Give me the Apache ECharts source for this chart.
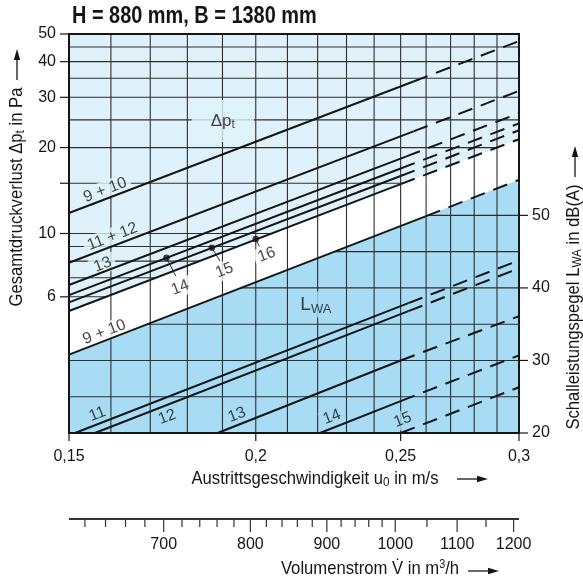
<!DOCTYPE html>
<html>
<head>
<meta charset="utf-8">
<script src="https://cdn.jsdelivr.net/npm/echarts@6/dist/echarts.min.js"></script>
<style>
html,body{margin:0;padding:0;background:#ffffff;}
#chart{width:583px;height:582px;}
</style>
</head>
<body>
<div id="chart"></div>
<script>
// ================= data =================
const uRange = [0.15, 0.3];      // Austrittsgeschwindigkeit u0 [m/s]
const paRange = [2, 50];         // Gesamtdruckverlust [Pa]
const dbRange = [20, 75];        // Schalleistungspegel [dB(A)]
const volRange = [605, 1210];    // Volumenstrom [m3/h]

const uTicks = [0.15, 0.2, 0.25, 0.3];
const uTickLabels = ['0,15', '0,2', '0,25', '0,3'];
const uGrid = [0.16, 0.17, 0.18, 0.19, 0.2, 0.21, 0.22, 0.23, 0.24, 0.25, 0.26, 0.27, 0.28, 0.29];

const paTicks = [50, 40, 30, 20, 15, 10, 6];
const paTickLabels = ['50', '40', '30', '20', '', '10', '6'];
const paGrid = [45, 40, 35, 30, 25, 20, 15, 10, 9, 8, 7, 6];

const dbTicks = [20, 30, 40, 50];
const dbTickLabels = ['20', '30', '40', '50'];
const dbGrid = [25, 30, 35, 40, 45, 50, 55];

const volMajor = [700, 800, 900, 1000, 1100, 1200];
const volMajorLabels = ['700', '800', '900', '1000', '1100', '1200'];
const volMinor = [620, 640, 660, 680, 720, 740, 760, 780, 820, 840, 860, 880, 920, 940, 960, 980, 1050, 1150];

// pressure loss curves [u, Pa]: start, end of solid part, end (dashed part)
const dpNames = ['9 + 10', '11 + 12', '13', '14', '15', '16'];
const dpStart = [[0.15, 11.8], [0.15, 7.9], [0.15, 6.6], [0.15, 6.08], [0.15, 5.74], [0.15, 5.35]];
const dpSolidEnd = [[0.255, 34.1], [0.255, 22.8], [0.252, 18.6], [0.25, 16.9], [0.25, 15.9], [0.25, 14.9]];
const dpEnd = [[0.3, 47.2], [0.3, 31.6], [0.3, 26.4], [0.3, 24.3], [0.3, 23.0], [0.3, 21.4]];
const dpDots = [[0.1743, 8.22], [0.1869, 8.91], [0.2, 9.57]];

// sound power curves [u, dB(A)]
const lwNames = ['9 + 10', '11', '12', '13', '14', '15'];
const lwStart = [[0.15, 30.8], [0.1514, 20], [0.1561, 20], [0.1886, 20], [0.2208, 20], [0.25, 20]];
const lwSolidEnd = [[0.26, 49.9], [0.253, 37.9], [0.253, 36.8], [0.25, 30.0], [0.25, 24.4], [0.25, 20]];
const lwEnd = [[0.3, 54.9], [0.3, 43.8], [0.3, 42.7], [0.3, 36.1], [0.3, 30.7], [0.3, 26.3]];

// ================= annotation placement =================
const dpLabelAt = [[0.1586, 14.2], [0.1604, 9.75], [0.158, 7.78], [0.178, 6.46], [0.1906, 7.42], [0.2034, 8.42]];
const leaderEnd = [[0.1768, 7.1], [0.1893, 8.0], [0.2011, 9.0]];
const lwLabelAt = [[0.1584, 33.9], [0.1567, 22.6], [0.1745, 22.2], [0.1943, 22.5], [0.2249, 22.2], [0.2508, 21.8]];

const INK = '#151515';
const LIGHT = '#dff2fb';
const DARK = '#a8dcf5';
const GRID_C = '#2e2e2e';
const FONT = '"Liberation Sans", Arial, Helvetica, sans-serif';
const dpLabelBg = [LIGHT, LIGHT, LIGHT, '#ffffff', '#ffffff', '#ffffff'];
const lwLabelBg = ['#ffffff', DARK, DARK, DARK, DARK, DARK];

function seg(x1, y1, x2, y2, color, w) {
  return {type: 'line', shape: {x1: x1, y1: y1, x2: x2, y2: y2}, style: {stroke: color, lineWidth: w}};
}
function txt(x, y, text, align, va, size) {
  return {type: 'text', style: {x: x, y: y, text: text, fill: INK, fontSize: size || 16, fontFamily: FONT, align: align, verticalAlign: va}};
}
const one = [[0.2, 10]];
const series = [];

// ---- region fills ----
series.push({
  type: 'custom', xAxisIndex: 0, yAxisIndex: 0, z: 1, silent: true, data: one,
  renderItem: function (params, api) {
    const tl = api.coord([uRange[0], paRange[1]]);
    const br = api.coord([uRange[1], paRange[0]]);
    const b0 = api.coord(dpStart[5]), b1 = api.coord(dpEnd[5]);
    return {type: 'group', children: [
      {type: 'polygon', shape: {points: [tl, [br[0], tl[1]], b1, b0]}, style: {fill: LIGHT}},
      {type: 'polygon', shape: {points: [b0, b1, br, [tl[0], br[1]]]}, style: {fill: '#ffffff'}}
    ]};
  }
});
series.push({
  type: 'custom', xAxisIndex: 0, yAxisIndex: 1, z: 1, silent: true, data: [[0.2, 30]],
  renderItem: function (params, api) {
    const c0 = api.coord(lwStart[0]), c1 = api.coord(lwEnd[0]);
    const bl = api.coord([uRange[0], dbRange[0]]), br = api.coord([uRange[1], dbRange[0]]);
    return {type: 'polygon', shape: {points: [c0, c1, br, bl]}, style: {fill: DARK}};
  }
});

// ---- grid lines ----
series.push({
  type: 'custom', xAxisIndex: 0, yAxisIndex: 0, z: 2, silent: true, data: one,
  renderItem: function (params, api) {
    const tl = api.coord([uRange[0], paRange[1]]);
    const br = api.coord([uRange[1], paRange[0]]);
    const b0 = api.coord(dpStart[5]), b1 = api.coord(dpEnd[5]);
    const ch = [];
    uGrid.forEach(function (u) {
      const x = api.coord([u, paRange[0]])[0];
      ch.push(seg(x, tl[1], x, br[1], GRID_C, 1.1));
    });
    paGrid.forEach(function (p) {
      const y = api.coord([uRange[0], p])[1];
      if (y >= b0[1]) return;
      let xe = br[0];
      if (y > b1[1]) xe = b0[0] + (y - b0[1]) / (b1[1] - b0[1]) * (b1[0] - b0[0]);
      ch.push(seg(tl[0], y, xe, y, GRID_C, 1.1));
    });
    return {type: 'group', children: ch};
  }
});
series.push({
  type: 'custom', xAxisIndex: 0, yAxisIndex: 1, z: 2, silent: true, data: [[0.2, 30]],
  renderItem: function (params, api) {
    const c0 = api.coord(lwStart[0]), c1 = api.coord(lwEnd[0]);
    const bl = api.coord([uRange[0], dbRange[0]]), br = api.coord([uRange[1], dbRange[0]]);
    const ch = [];
    dbGrid.forEach(function (d) {
      const y = api.coord([uRange[0], d])[1];
      if (y <= c1[1]) return;
      let xs = bl[0];
      if (y < c0[1]) xs = c0[0] + (y - c0[1]) / (c1[1] - c0[1]) * (c1[0] - c0[0]);
      ch.push(seg(xs, y, br[0], y, GRID_C, 1.1));
    });
    return {type: 'group', children: ch};
  }
});

// ---- curve labels ----
series.push({
  type: 'scatter', xAxisIndex: 0, yAxisIndex: 0, z: 3, silent: true, symbolSize: 1,
  itemStyle: {color: 'rgba(0,0,0,0)'},
  label: {show: true, position: 'inside', rotate: 21, color: INK, fontSize: 16, fontFamily: FONT, padding: [1, 4]},
  data: dpNames.map(function (n, i) {
    return {value: dpLabelAt[i], label: {formatter: n, backgroundColor: dpLabelBg[i]}};
  })
});
series.push({
  type: 'scatter', xAxisIndex: 0, yAxisIndex: 1, z: 3, silent: true, symbolSize: 1,
  itemStyle: {color: 'rgba(0,0,0,0)'},
  label: {show: true, position: 'inside', rotate: 21, color: INK, fontSize: 16, fontFamily: FONT, padding: [1, 3]},
  data: lwNames.map(function (n, i) {
    return {value: lwLabelAt[i], label: {formatter: n, backgroundColor: lwLabelBg[i]}};
  })
});
// region names
series.push({
  type: 'scatter', xAxisIndex: 0, yAxisIndex: 0, z: 3, silent: true, symbolSize: 1,
  itemStyle: {color: 'rgba(0,0,0,0)'},
  label: {show: true, position: 'inside', color: INK, fontSize: 17, fontFamily: FONT, lineHeight: 20,
    formatter: 'Δp{s|t}', backgroundColor: LIGHT, padding: [11, 19],
    rich: {s: {fontSize: 12, fontFamily: FONT, color: INK, verticalAlign: 'bottom', lineHeight: 10}}},
  data: [[0.1901, 24.8]]
});
series.push({
  type: 'scatter', xAxisIndex: 0, yAxisIndex: 1, z: 3, silent: true, symbolSize: 1,
  itemStyle: {color: 'rgba(0,0,0,0)'},
  label: {show: true, position: 'inside', color: INK, fontSize: 19, fontFamily: FONT, lineHeight: 22,
    formatter: 'L{s|WA}', backgroundColor: DARK, padding: [2, 3],
    rich: {s: {fontSize: 13, fontFamily: FONT, color: INK, verticalAlign: 'bottom', lineHeight: 11}}},
  data: [[0.2194, 37.7]]
});

// ---- curves ----
function mkLine(data, yIdx, type) {
  return {type: 'line', xAxisIndex: 0, yAxisIndex: yIdx, z: 4, silent: true, symbol: 'none',
    data: data, lineStyle: {color: INK, width: 2, type: type}};
}
function addCurves(start, solidEnd, end, yIdx) {
  for (let i = 0; i < start.length; i++) {
    if (solidEnd[i][0] > start[i][0]) series.push(mkLine([start[i], solidEnd[i]], yIdx, 'solid'));
    series.push(mkLine([solidEnd[i], end[i]], yIdx, [15, 9]));
  }
}
addCurves(dpStart, dpSolidEnd, dpEnd, 0);
addCurves(lwStart, lwSolidEnd, lwEnd, 1);

// leaders + dots
dpDots.forEach(function (d, i) {
  series.push({type: 'line', xAxisIndex: 0, yAxisIndex: 0, z: 4, silent: true, symbol: 'none',
    data: [d, leaderEnd[i]], lineStyle: {color: INK, width: 0.9}});
});
series.push({type: 'scatter', xAxisIndex: 0, yAxisIndex: 0, z: 5, silent: true, symbolSize: 6.5,
  itemStyle: {color: INK}, data: dpDots});

// ---- frame, ticks, tick labels ----
series.push({
  type: 'custom', xAxisIndex: 0, yAxisIndex: 0, z: 6, silent: true, data: one,
  renderItem: function (params, api) {
    const tl = api.coord([uRange[0], paRange[1]]);
    const br = api.coord([uRange[1], paRange[0]]);
    const ch = [];
    ch.push({type: 'rect', shape: {x: tl[0], y: tl[1], width: br[0] - tl[0], height: br[1] - tl[1]},
      style: {fill: 'none', stroke: INK, lineWidth: 2}});
    paTicks.forEach(function (p, i) {
      const y = api.coord([uRange[0], p])[1];
      ch.push(seg(tl[0] - 9, y, tl[0], y, INK, 1.2));
      if (paTickLabels[i]) ch.push(txt(tl[0] - 13, y, paTickLabels[i], 'right', 'middle', 16));
    });
    uTicks.forEach(function (u, i) {
      const x = api.coord([u, paRange[0]])[0];
      ch.push(seg(x, br[1], x, br[1] + 8, INK, 1.2));
      ch.push(txt(x, br[1] + 24, uTickLabels[i], 'center', 'middle', 16));
    });
    return {type: 'group', children: ch};
  }
});
series.push({
  type: 'custom', xAxisIndex: 0, yAxisIndex: 1, z: 6, silent: true, data: [[0.2, 30]],
  renderItem: function (params, api) {
    const ch = [];
    dbTicks.forEach(function (d, i) {
      const p = api.coord([uRange[1], d]);
      ch.push(seg(p[0], p[1], p[0] + 9, p[1], INK, 1.2));
      ch.push(txt(p[0] + 13, p[1], dbTickLabels[i], 'left', 'middle', 16));
    });
    return {type: 'group', children: ch};
  }
});
series.push({
  type: 'custom', xAxisIndex: 1, yAxisIndex: 2, z: 6, silent: true, data: [[900, 0.5]],
  renderItem: function (params, api) {
    const a = api.coord([volRange[0], 1]), b = api.coord([volRange[1], 1]);
    const ch = [seg(a[0], a[1], b[0], a[1], '#333', 2)];
    volMinor.forEach(function (v) {
      const x = api.coord([v, 1])[0];
      ch.push(seg(x, a[1], x, a[1] + 8, '#333', 1.2));
    });
    volMajor.forEach(function (v, i) {
      const x = api.coord([v, 1])[0];
      ch.push(seg(x, a[1], x, a[1] + 13, '#333', 1.2));
      ch.push(txt(x, a[1] + 26, volMajorLabels[i], 'center', 'middle', 16));
    });
    return {type: 'group', children: ch};
  }
});

function arrowH(x1, x2, y) {
  return [
    {type: 'line', shape: {x1: x1, y1: y, x2: x2 - 10, y2: y}, style: {stroke: INK, lineWidth: 1.3}},
    {type: 'polygon', shape: {points: [[x2, y], [x2 - 11, y - 3.2], [x2 - 11, y + 3.2]]}, style: {fill: INK}}
  ];
}
function arrowV(x, y1, y2) {
  return [
    {type: 'line', shape: {x1: x, y1: y1, x2: x, y2: y2 + 10}, style: {stroke: INK, lineWidth: 1.3}},
    {type: 'polygon', shape: {points: [[x, y2], [x - 3.2, y2 + 11], [x + 3.2, y2 + 11]]}, style: {fill: INK}}
  ];
}
const subRich = {s: {fontSize: 13, fontFamily: FONT, fill: INK, verticalAlign: 'bottom', lineHeight: 10},
                 p: {fontSize: 12, fontFamily: FONT, fill: INK, verticalAlign: 'top', lineHeight: 10}};
function titleText(x, y, text, rot) {
  return {type: 'text', x: x, y: y, rotation: rot, scaleX: 0.9,
    style: {text: text, rich: subRich, fill: INK, fontSize: 18.5, fontFamily: FONT, lineHeight: 20, align: 'center', verticalAlign: 'middle'}};
}

const graphics = [
  {type: 'text', x: 72, y: 16, scaleX: 0.83,
    style: {text: 'H = 880 mm, B = 1380 mm', fill: INK, fontSize: 24, fontWeight: 'bold', fontFamily: FONT, align: 'left', verticalAlign: 'middle'}},
  titleText(17, 197, 'Gesamtdruckverlust Δp{s|t} in Pa', Math.PI / 2),
  titleText(574, 307, 'Schalleistungspegel L{s|WA} in dB(A)', Math.PI / 2),
  titleText(315, 479, 'Austrittsgeschwindigkeit u{s|0} in m/s', 0),
  titleText(370, 569, 'Volumenstrom V\u0307 in m{p|3}/h', 0)
].concat(arrowV(17, 80, 49), arrowV(575, 177, 146), arrowH(457, 488, 479), arrowH(468, 499, 571));

const chart = echarts.init(document.getElementById('chart'), null, {renderer: 'canvas', width: 583, height: 582});
chart.setOption({
  animation: false,
  backgroundColor: '#ffffff',
  textStyle: {fontFamily: FONT},
  grid: [
    {left: 69, top: 34, width: 450, height: 399},
    {left: 69, top: 519, width: 450, height: 10}
  ],
  xAxis: [
    {type: 'log', gridIndex: 0, min: uRange[0], max: uRange[1], show: false},
    {type: 'log', gridIndex: 1, min: volRange[0], max: volRange[1], show: false}
  ],
  yAxis: [
    {type: 'log', gridIndex: 0, min: paRange[0], max: paRange[1], show: false},
    {type: 'value', gridIndex: 0, min: dbRange[0], max: dbRange[1], show: false, position: 'right'},
    {type: 'value', gridIndex: 1, min: 0, max: 1, show: false}
  ],
  graphic: graphics,
  series: series
});
</script>
</body>
</html>
